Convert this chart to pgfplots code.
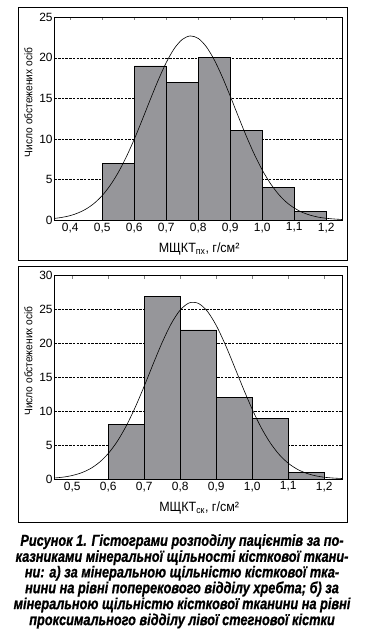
\documentclass[border=0pt]{standalone}
\usepackage{pgfplots}
\pgfplotsset{compat=1.18}
\usepackage{fontspec}
\setmainfont{Liberation Sans}
\newfontfamily\chartfont{Liberation Sans}
\newfontfamily\labfont[FakeStretch=0.93]{Liberation Sans}
\newfontfamily\capfont[FakeStretch=0.80, BoldItalicFeatures={FakeBold=0.8}]{Liberation Sans}
\definecolor{bargray}{RGB}{150,150,154}

\pgfplotsset{
  histo/.style={
    scale only axis,
    width=288bp,
    ymin=0,
    xmax=1.25,
    axis line style={line width=0.8bp},
    tick align=inside,
    major tick length=3bp,
    xtick pos=upper,
    xticklabel pos=lower,
    ytick style={draw=none},
    xtick={0.4,0.5,0.6,0.7,0.8,0.9,1.0,1.1,1.2},
    /pgf/number format/assume math mode=true,
    x tick label style={/pgf/number format/fixed, /pgf/number format/fixed zerofill, /pgf/number format/precision=1, /pgf/number format/use comma, inner sep=2bp, yshift=-0.5bp},
    ticklabel style={font=\chartfont\fontsize{12}{12}\selectfont, text=black},
    y tick label style={inner sep=1.5bp},
    ymajorgrids,
    major grid style={black, line width=0.6bp, dash pattern=on 2.5bp off 1.2bp},
    ylabel style={font=\labfont\fontsize{11}{11}\selectfont, at={(axis description cs:-0.09,0.58)}, rotate=0, anchor=center},
    xlabel style={font=\labfont\fontsize{13.5}{13.5}\selectfont, at={(axis description cs:0.503,-0.143)}, anchor=center},
  }
}

\begin{document}
\begin{tikzpicture}[x=1bp,y=1bp]
\useasboundingbox (0,0) rectangle (364,629);

% frames
\draw[line width=0.9bp] (18.3,621.7) rectangle (347.3,369);
\draw[line width=0.9bp] (18.3,363) rectangle (347.3,107);

% top histogram
\begin{axis}[histo,
  at={(54.3bp,409bp)}, anchor=south west,
  height=202.7bp,
  xmin=0.35, ymax=25,
  ytick={0,5,10,15,20,25},
  ylabel={Число обстежених осіб},
  xlabel={МЩКТ\textsubscript{пх}, г/см²},
]
\addplot[ybar interval, fill=bargray, draw=black, line width=0.8bp]
  coordinates {(0.5,7) (0.6,19) (0.7,17) (0.8,20) (0.9,11) (1.0,4) (1.1,1) (1.2,0)};
\addplot[smooth, black, line width=0.6bp] coordinates {
(0.350,0.19) (0.375,0.33) (0.400,0.54) (0.425,0.88) (0.450,1.37) (0.475,2.07)
(0.500,3.03) (0.525,4.29) (0.550,5.87) (0.575,7.78) (0.600,9.97) (0.625,12.38)
(0.650,14.86) (0.675,17.27) (0.700,19.43) (0.725,21.15) (0.750,22.27) (0.775,22.70)
(0.800,22.39) (0.825,21.37) (0.850,19.74) (0.875,17.64) (0.900,15.26) (0.925,12.77)
(0.950,10.35) (0.975,8.11) (1.000,6.15) (1.025,4.52) (1.050,3.21) (1.075,2.20)
(1.100,1.47) (1.125,0.94) (1.150,0.59) (1.175,0.35) (1.200,0.21) (1.225,0.12) (1.250,0.06)
};
\end{axis}

% bottom histogram
\begin{axis}[histo,
  at={(54.3bp,150bp)}, anchor=south west,
  height=203.3bp,
  xmin=0.45, ymax=30,
  xtick={0.5,0.6,0.7,0.8,0.9,1.0,1.1,1.2},
  ytick={0,5,10,15,20,25,30},
  ylabel={Число обстежених осіб},
  xlabel={МЩКТ\textsubscript{ск}, г/см²},
]
\addplot[ybar interval, fill=bargray, draw=black, line width=0.8bp]
  coordinates {(0.6,8) (0.7,27) (0.8,22) (0.9,12) (1.0,9) (1.1,1) (1.2,0)};
\addplot[smooth, black, line width=0.6bp] coordinates {
(0.450,0.15) (0.475,0.28) (0.500,0.52) (0.525,0.91) (0.550,1.52) (0.575,2.45)
(0.600,3.77) (0.625,5.56) (0.650,7.85) (0.675,10.61) (0.700,13.73) (0.725,17.02)
(0.750,20.19) (0.775,22.94) (0.800,24.95) (0.825,25.99) (0.850,25.92) (0.875,24.76)
(0.900,22.64) (0.925,19.82) (0.950,16.62) (0.975,13.35) (1.000,10.26) (1.025,7.55)
(1.050,5.32) (1.075,3.59) (1.100,2.32) (1.125,1.44) (1.150,0.85) (1.175,0.48)
(1.200,0.26) (1.225,0.14) (1.250,0.07)
};
\end{axis}

% caption
\begin{scope}[every node/.style={font=\capfont\bfseries\itshape\fontsize{16}{16}\selectfont, anchor=center, inner sep=0pt}]
\node at (182,87.3) {Рисунок 1. Гістограми розподілу пацієнтів за по-};
\node at (182,71.3) {казниками мінеральної щільності кісткової ткани-};
\node at (182,55.7) {ни: а) за мінеральною щільністю кісткової тка-};
\node at (182,40.0) {нини на рівні поперекового відділу хребта; б) за};
\node at (182,24.0) {мінеральною щільністю кісткової тканини на рівні};
\node at (182,8.0) {проксимального відділу лівої стегнової кістки};
\end{scope}
\end{tikzpicture}
\end{document}
